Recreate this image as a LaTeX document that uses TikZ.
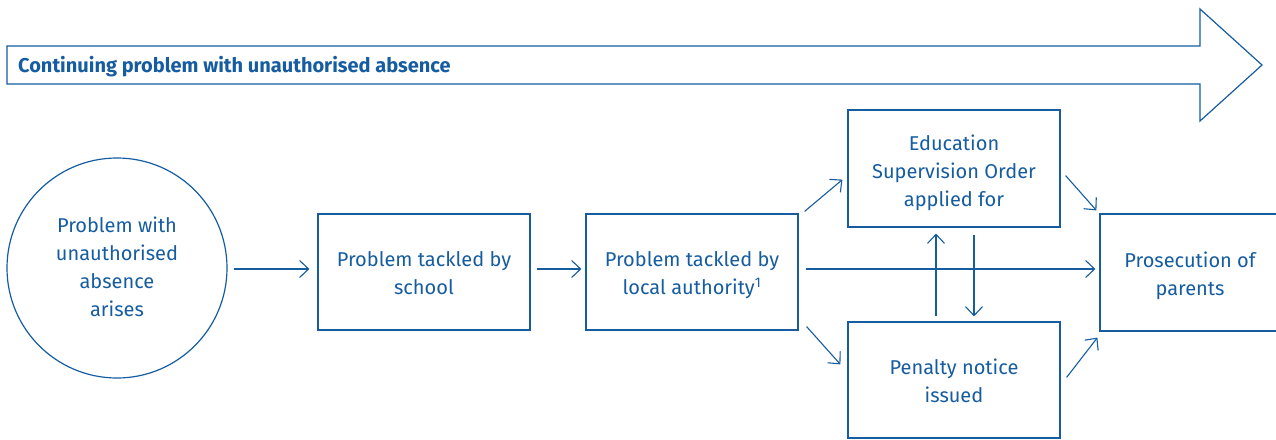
\documentclass[tikz,border=0pt]{standalone}
\usepackage{fontspec}
\setmainfont{Fira Sans}
\usetikzlibrary{arrows.meta,calc}
\definecolor{flowblue}{RGB}{22,92,160}
% centred lines, set a little low inside their frame
\newcommand{\boxtext}[2][3pt]{\raisebox{-#1}[\height][\depth]{\begin{tabular}{@{}c@{}}#2\end{tabular}}}
\tikzset{
  box/.style={draw=flowblue, line width=1.2pt, rectangle, minimum width=212pt,
    minimum height=116pt, text=flowblue, inner sep=0pt,
    font=\fontsize{20}{28}\selectfont},
  arr/.style={draw=flowblue, line width=1.1pt,
    -{Straight Barb[length=9pt,width=17pt,line width=1.1pt]}},
}
\begin{document}
\begin{tikzpicture}[x=1pt,y=-1pt]
  \useasboundingbox (0,0) rectangle (1276,439);
  \clip (0,0) rectangle (1276,439);

  % long banner arrow across the top
  \draw[flowblue, line width=1.2pt, line join=miter]
    (7,46) -- (1200,46) -- (1200,9) -- (1262,65) -- (1200,121)
    -- (1200,84) -- (7,84) -- cycle;
  \node[anchor=west, text=flowblue, inner sep=0pt,
        font=\fontsize{20}{24}\selectfont\bfseries] (banner) at (18,67)
    {Continuing problem with unauthorised absence};

  % stages
  \node[box, circle, minimum size=220pt, minimum width=220pt] (start) at (117,268)
    {\boxtext[1pt]{Problem with\\unauthorised\\absence\\arises}};
  \node[box] (school) at (424,272) {\boxtext{Problem tackled by\\school}};
  \node[box] (la) at (692,272) {\boxtext{Problem tackled by\\local authority\textsuperscript{1}}};
  \node[box, minimum height=117pt] (eso) at (954,168.5)
    {\boxtext[4pt]{Education\\Supervision Order\\applied for}};
  \node[box] (penalty) at (954,380) {\boxtext{Penalty notice\\issued}};
  \node[box, minimum width=180pt, minimum height=117pt] (court) at (1190,272.5)
    {\boxtext{Prosecution of\\parents}};

  % connectors
  \draw[arr, shorten <=6pt, shorten >=8pt] (start.east |- 0,269) -- (school.west |- 0,269);
  \draw[arr, shorten <=6pt, shorten >=4pt] (school.east |- 0,269) -- (la.west |- 0,269);
  \draw[arr] ($(la.north east)+(6,-2)$) -- ($(eso.south west)+(-5,-48)$);
  \draw[arr] ($(la.south east)+(8,-4)$) -- ($(penalty.north west)+(-7,43)$);
  \draw[arr, shorten <=7pt, shorten >=4pt] (la.east |- 0,269) -- (court.west |- 0,269);
  \draw[arr] ($(eso.south east)+(5,-52)$) -- ($(court.north west)+(-3,-3)$);
  \draw[arr] ($(penalty.north east)+(6,56)$) -- ($(court.south west)+(-2,6)$);
  \draw[arr] ($(penalty.north)+(-18,-5)$) -- ($(eso.south)+(-18,6)$);
  \draw[arr] ($(eso.south)+(20,7)$) -- ($(penalty.north)+(20,-5)$);
\end{tikzpicture}
\end{document}
